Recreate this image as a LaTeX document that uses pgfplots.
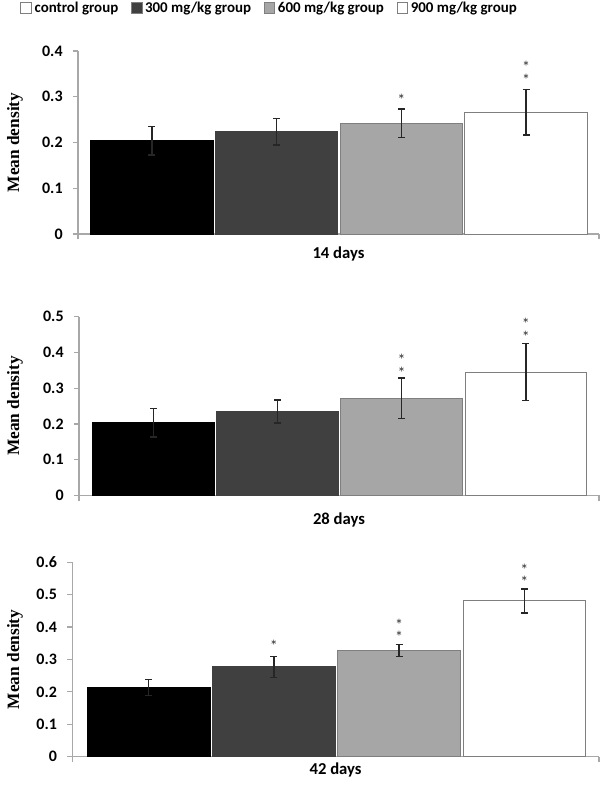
\documentclass[border=0pt]{standalone}
\usepackage{fontspec}
\setmainfont{Carlito}
\newfontfamily\timesf{Liberation Serif}
\usepackage{pgfplots}
\pgfplotsset{compat=1.18}
\definecolor{cdark}{HTML}{404040}
\definecolor{cgray}{HTML}{A6A6A6}
\definecolor{cedge}{HTML}{7F7F7F}
\definecolor{caxis}{HTML}{A8A8A8}
\definecolor{cerr}{HTML}{262626}
\tikzset{
 star/.style={font=\fontsize{12}{12}\selectfont, inner sep=0pt, anchor=center, yshift=-2pt, text=black!80},
 star2/.style={font=\fontsize{12}{6.8}\selectfont, align=center, inner sep=0pt, anchor=center, yshift=-1pt, text=black!80},
 day/.style={font=\bfseries\fontsize{12.5}{12.5}\selectfont, anchor=center},
}
\pgfplotsset{
 panel/.style={
  scale only axis, clip=false,
  ymin=0,
  axis x line*=bottom, axis y line*=left,
  axis line style={draw=caxis, line width=0.9pt, -},
  tick align=outside, major tick length=4pt,
  tick style={draw=caxis, line width=0.9pt},
  xticklabels={},
  yticklabel style={font=\bfseries\fontsize{12}{12}\selectfont, xshift=-4pt},
  /pgf/number format/fixed, /pgf/number format/precision=1,
  /pgf/number format/assume math mode=true,
  ylabel={\timesf\bfseries Mean density},
  ylabel style={font=\fontsize{13}{13}\selectfont, anchor=center},
 },
 pb/.style={ybar, bar width=0.98, bar shift=0pt, line width=0.7pt,
  error bars/y dir=both, error bars/y explicit,
  error bars/error bar style={line width=1.1pt, draw=cerr},
  error bars/error mark options={rotate=90, mark size=2.6pt, line width=1.1pt, draw=cerr}},
 b0/.style={fill=black, draw=black},
 b1/.style={fill=cdark, draw=cdark},
 b2/.style={fill=cgray, draw=cedge},
 b3/.style={fill=white, draw=cedge},
}
\begin{document}
\begin{tikzpicture}
\path[use as bounding box] (0,0) rectangle (450pt,-591.75pt);
% Panel 1: 14 days
\begin{axis}[panel, at={(58.5pt,-175.5pt)}, anchor=south west,
  width=390.75pt, height=137.25pt,
  xmin=-0.593, xmax=3.585, xtick={-0.593,3.585},
  ymax=0.4, ytick={0,0.1,0.2,0.3,0.4},
  ylabel style={at={(rel axis cs:-0.121,0.5)}},
  legend columns=4,
  legend style={draw=none, fill=none, at={(rel axis cs:-0.111,1.235)}, anchor=west,
    font=\bfseries\fontsize{11.2}{12}\selectfont, inner sep=0pt,
    /tikz/every even column/.append style={column sep=7.5pt}},
  legend cell align=left]
\addlegendimage{legend image code/.code={\draw[fill=white,draw=cedge,line width=0.6pt] (0pt,-4pt) rectangle (8pt,4pt);}}
\addlegendentry{control group}
\addlegendimage{legend image code/.code={\draw[fill=cdark,draw=cedge,line width=0.6pt] (0pt,-4pt) rectangle (8pt,4pt);}}
\addlegendentry{300 mg/kg group}
\addlegendimage{legend image code/.code={\draw[fill=cgray,draw=cedge,line width=0.6pt] (0pt,-4pt) rectangle (8pt,4pt);}}
\addlegendentry{600 mg/kg group}
\addlegendimage{legend image code/.code={\draw[fill=white,draw=cedge,line width=0.6pt] (0pt,-4pt) rectangle (8pt,4pt);}}
\addlegendentry{900 mg/kg group}
\addplot[pb, b0, forget plot] coordinates {(0,0.204) +- (0,0.031)};
\addplot[pb, b1, forget plot] coordinates {(1,0.224) +- (0,0.029)};
\addplot[pb, b2, forget plot] coordinates {(2,0.242) +- (0,0.031)};
\addplot[pb, b3, forget plot] coordinates {(3,0.266) +- (0,0.050)};
\node[star] at (axis cs:2,0.300) {*};
\node[star2] at (axis cs:3,0.3535) {*\\*};
\node[day] at (rel axis cs:0.5,0) [yshift=-15pt] {14 days};
\end{axis}
% Panel 2: 28 days
\begin{axis}[panel, at={(59.25pt,-371.5pt)}, anchor=south west,
  width=390pt, height=133.95pt,
  xmin=-0.6, xmax=3.59, xtick={-0.6,3.59},
  ymax=0.5, ytick={0,0.1,0.2,0.3,0.4,0.5},
  ylabel style={at={(rel axis cs:-0.123,0.5)}}]
\addplot[pb, b0] coordinates {(0,0.203) +- (0,0.040)};
\addplot[pb, b1] coordinates {(1,0.235) +- (0,0.032)};
\addplot[pb, b2] coordinates {(2,0.272) +- (0,0.057)};
\addplot[pb, b3] coordinates {(3,0.345) +- (0,0.080)};
\node[star2] at (axis cs:2,0.3655) {*\\*};
\node[star2] at (axis cs:3,0.4655) {*\\*};
\node[day] at (rel axis cs:0.5,0) [yshift=-18.5pt] {28 days};
\end{axis}
% Panel 3: 42 days
\begin{axis}[panel, at={(54.2pt,-567.5pt)}, anchor=south west,
  width=395pt, height=145.8pt,
  xmin=-0.61, xmax=3.595, xtick={-0.61,3.595},
  ymax=0.6, ytick={0,0.1,0.2,0.3,0.4,0.5,0.6},
  ylabel style={at={(rel axis cs:-0.109,0.5)}}]
\addplot[pb, b0] coordinates {(0,0.213) +- (0,0.025)};
\addplot[pb, b1] coordinates {(1,0.277) +- (0,0.033)};
\addplot[pb, b2] coordinates {(2,0.328) +- (0,0.019)};
\addplot[pb, b3] coordinates {(3,0.481) +- (0,0.037)};
\node[star] at (axis cs:1,0.350) {*};
\node[star2] at (axis cs:2,0.3925) {*\\*};
\node[star2] at (axis cs:3,0.5625) {*\\*};
\node[day] at (rel axis cs:0.5,0) [yshift=-10pt] {42 days};
\end{axis}
\end{tikzpicture}
\end{document}
